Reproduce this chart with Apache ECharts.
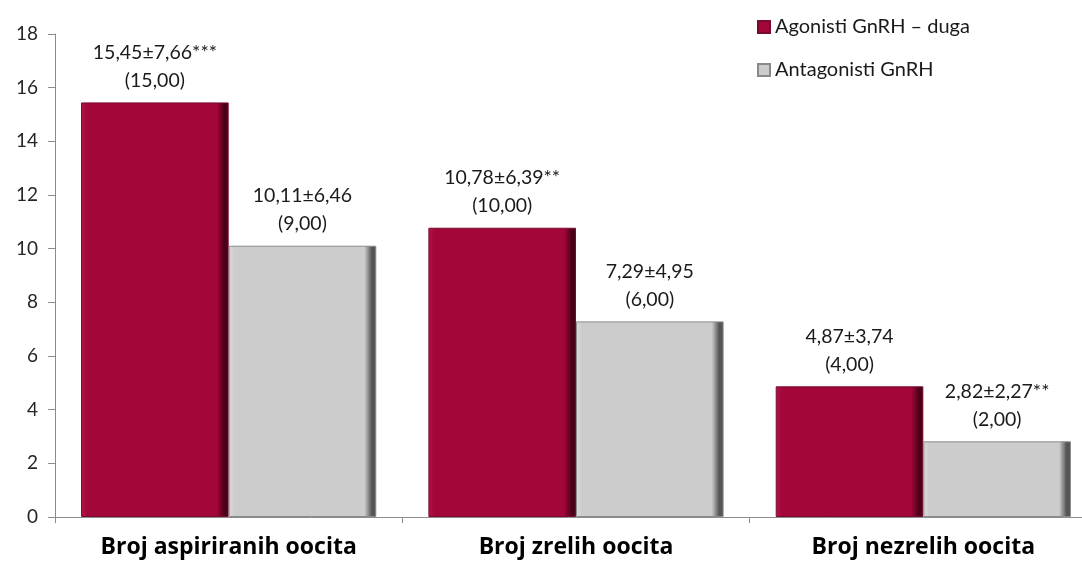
<!DOCTYPE html>
<html><head><meta charset="utf-8">
<script src="https://cdn.jsdelivr.net/npm/echarts@6/dist/echarts.min.js"></script>
<style>html,body{margin:0;padding:0;background:#fff}#c{width:1082px;height:563px}</style>
</head><body><div id="c"></div>
<script>
const categories = ['Broj aspiriranih oocita', 'Broj zrelih oocita', 'Broj nezrelih oocita'];
const seriesNames = ['Agonisti GnRH \u2013 duga', 'Antagonisti GnRH'];
const agonistValues = [15.45, 10.78, 4.87];
const antagonistValues = [10.11, 7.29, 2.82];
const agonistLabels = ['15,45\u00b17,66***\n(15,00)', '10,78\u00b16,39**\n(10,00)', '4,87\u00b13,74\n(4,00)'];
const antagonistLabels = ['10,11\u00b16,46\n(9,00)', '7,29\u00b14,95\n(6,00)', '2,82\u00b12,27**\n(2,00)'];
const yTicks = [0, 2, 4, 6, 8, 10, 12, 14, 16, 18];

const FONT = 'Lato, "Open Sans", sans-serif';
function grad(light, main, dark) {
  return new echarts.graphic.LinearGradient(0, 0, 1, 0, [
    {offset: 0, color: light}, {offset: 0.04, color: main},
    {offset: 0.92, color: main}, {offset: 0.97, color: dark}, {offset: 1, color: dark}
  ]);
}
const redFill = grad('#b4164a', '#a30638', '#4a0018');
const greyFill = grad('#dcdcdc', '#cccccc', '#555555');

const chart = echarts.init(document.getElementById('c'));
chart.setOption({
  animation: false,
  backgroundColor: '#ffffff',
  textStyle: {fontFamily: FONT},
  grid: {left: 55, width: 1042, top: 34, bottom: 46, containLabel: false, outerBoundsMode: 'none'},
  legend: {
    orient: 'vertical', left: 757, top: 17, itemGap: 23, padding: 0,
    itemWidth: 12, itemHeight: 12, icon: 'rect',
    textStyle: {fontFamily: FONT, fontSize: 20, color: '#1a1a1a'},
    data: seriesNames
  },
  xAxis: {
    type: 'category', data: categories,
    axisLine: {lineStyle: {color: '#8c8c8c', width: 1}},
    axisTick: {show: true, length: 6, lineStyle: {color: '#8c8c8c'}},
    axisLabel: {fontFamily: '"Open Sans", sans-serif', fontSize: 23, fontWeight: 'bold', color: '#000', margin: 19}
  },
  yAxis: {
    type: 'value', min: yTicks[0], max: yTicks[yTicks.length - 1], interval: 2,
    axisLine: {show: true, lineStyle: {color: '#8c8c8c'}},
    axisTick: {show: true, length: 7, lineStyle: {color: '#8c8c8c'}},
    splitLine: {show: false},
    axisLabel: {fontFamily: FONT, fontSize: 19, color: '#262626', margin: 17}
  },
  series: [
    {
      name: seriesNames[0], type: 'bar', data: agonistValues,
      barGap: '0%', barCategoryGap: '15%',
      itemStyle: {color: redFill, borderColor: '#7a0a2c', borderWidth: 1},
      label: {show: true, position: 'top', distance: 8, fontFamily: FONT, fontSize: 19.5,
        lineHeight: 28, color: '#1a1a1a',
        formatter: p => agonistLabels[p.dataIndex]}
    },
    {
      name: seriesNames[1], type: 'bar', data: antagonistValues,
      barGap: '0%', barCategoryGap: '15%',
      itemStyle: {color: greyFill, borderColor: '#8a8a8a', borderWidth: 1},
      label: {show: true, position: 'top', distance: 8, fontFamily: FONT, fontSize: 19.5,
        lineHeight: 28, color: '#1a1a1a',
        formatter: p => antagonistLabels[p.dataIndex]}
    }
  ]
});
</script></body></html>
